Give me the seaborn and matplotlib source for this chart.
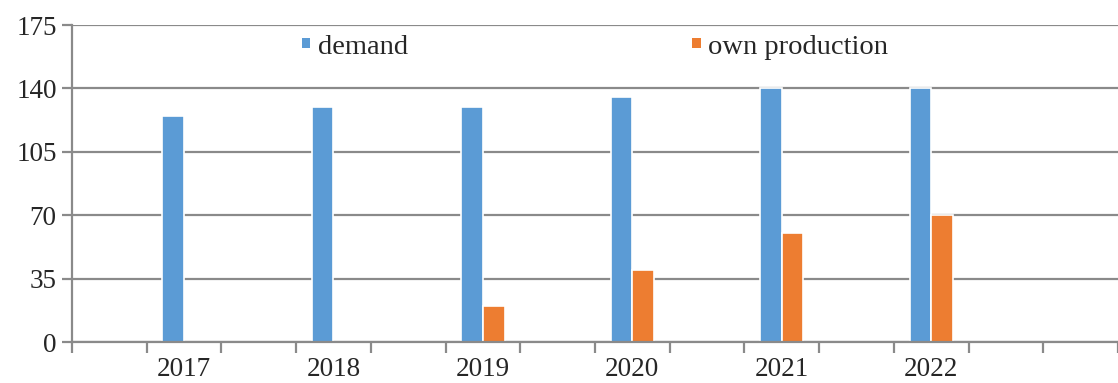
import pandas as pd
import seaborn as sns
import matplotlib.pyplot as plt

# Values
years = ["2017", "2018", "2019", "2020", "2021", "2022"]
demand = [125, 130, 130, 135, 140, 140]
own_production = [0, 0, 20, 40, 60, 70]
y_ticks = [0, 35, 70, 105, 140, 175]

df = pd.DataFrame({
    "year": years * 2,
    "value": demand + own_production,
    "series": ["demand"] * len(years) + ["own production"] * len(years),
})

sns.set_theme(style="white")
plt.rcParams["font.family"] = ["Liberation Serif", "DejaVu Serif"]

grid_col = "#8a8a8a"
fig = plt.figure(figsize=(11.18, 3.83), dpi=100)
ax = fig.add_axes([0.0644, 0.107, 0.9356, 0.8277])

sns.barplot(
    data=df, x="year", y="value", hue="series",
    palette=["#5B9BD5", "#ED7D31"], saturation=1, width=0.29,
    edgecolor="white", linewidth=1.2, ax=ax, legend=True,
)

ax.set_ylim(0, 175)
ax.set_yticks(y_ticks)
ax.set_xlim(-0.75, 6.22)
ax.yaxis.grid(True, color=grid_col, linewidth=1.6)
ax.set_axisbelow(True)

# tick marks sit between slots, labels at category centres
minor = [-0.75 + 0.5 * k for k in range(15)]
ax.set_xticks(minor, minor=True)
ax.tick_params(axis="x", which="major", bottom=True, length=0, labelsize=19.5, pad=11)
ax.tick_params(axis="x", which="minor", bottom=True, length=8, width=1.6, color=grid_col)
ax.tick_params(axis="y", left=True, length=7, width=1.6, color=grid_col, labelsize=19.5, pad=4)

for side in ["top", "right"]:
    ax.spines[side].set_visible(False)
for side in ["left", "bottom"]:
    ax.spines[side].set_color(grid_col)
    ax.spines[side].set_linewidth(1.6)

ax.set_xlabel("")
ax.set_ylabel("")

leg = ax.legend(
    loc="center", bbox_to_anchor=(0.5, 0.93), ncol=2, frameon=False,
    fontsize=20.5, handlelength=0.3, handleheight=0.17, handletextpad=0.25,
    columnspacing=10.0,
)
for h in leg.legend_handles:
    h.set_edgecolor("none")

plt.savefig("out.png", dpi=100)
